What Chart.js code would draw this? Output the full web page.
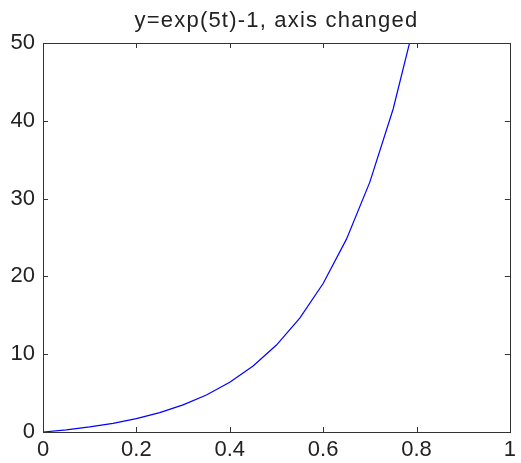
<!DOCTYPE html>
<html>
<head>
<meta charset="utf-8">
<script src="https://cdn.jsdelivr.net/npm/chart.js@4/dist/chart.umd.min.js"></script>
<style>
  html, body { margin: 0; padding: 0; background: #fff; }
  #wrap { width: 521px; height: 463px; }
</style>
</head>
<body>
<div id="wrap"><canvas id="c" width="521" height="463"></canvas></div>
<script>
// t samples and y values
const tValues = [0, 0.05, 0.1, 0.15, 0.2, 0.25, 0.3, 0.35, 0.4, 0.45, 0.5, 0.55, 0.6, 0.65, 0.7, 0.75, 0.8]
const yValues = [0, 0.28, 0.65, 1.12, 1.72, 2.49, 3.48, 4.75, 6.39, 8.49, 11.18, 14.64, 19.09, 24.79, 32.12, 41.52, 53.6]
const xTicks = [0, 0.2, 0.4, 0.6, 0.8, 1]
const yTicks = [0, 10, 20, 30, 40, 50]
const titleText = 'y=exp(5t)-1, axis changed'

const FONT = '"Liberation Sans", Arial, sans-serif'
const ink = '#222'

// MATLAB style box with inward ticks on all four sides
const boxPlugin = {
  id: 'box',
  afterDraw(chart) {
    const { ctx, chartArea: a, scales } = chart
    ctx.save()
    ctx.strokeStyle = '#333'
    ctx.lineWidth = 1
    ctx.strokeRect(Math.round(a.left) + 0.5, Math.round(a.top) + 0.5,
      Math.round(a.right - a.left), Math.round(a.bottom - a.top))
    const len = 5
    ctx.beginPath()
    xTicks.forEach((v) => {
      const x = Math.round(scales.x.getPixelForValue(v)) + 0.5
      ctx.moveTo(x, a.bottom); ctx.lineTo(x, a.bottom - len)
      ctx.moveTo(x, a.top); ctx.lineTo(x, a.top + len)
    })
    yTicks.forEach((v) => {
      const y = Math.round(scales.y.getPixelForValue(v)) + 0.5
      ctx.moveTo(a.left, y); ctx.lineTo(a.left + len, y)
      ctx.moveTo(a.right, y); ctx.lineTo(a.right - len, y)
    })
    ctx.stroke()

    ctx.fillStyle = ink
    ctx.font = '22px ' + FONT
    ctx.letterSpacing = '1.2px'
    ctx.textAlign = 'center'
    ctx.textBaseline = 'alphabetic'
    ctx.fillText(titleText, (a.left + a.right) / 2, 27)
    ctx.restore()
  },
}

new Chart(document.getElementById('c'), {
  type: 'scatter',
  data: {
    datasets: [{
      data: tValues.map((t, i) => ({ x: t, y: yValues[i] })),
      showLine: true,
      borderColor: '#0000ff',
      borderWidth: 1.2,
      pointRadius: 0,
      tension: 0,
      clip: 0,
    }],
  },
  options: {
    responsive: false,
    animation: false,
    devicePixelRatio: 1,
    layout: { padding: { top: 43, right: 4, left: 0, bottom: 0 } },
    plugins: { legend: { display: false }, tooltip: { enabled: false }, title: { display: false } },
    scales: {
      x: {
        type: 'linear',
        min: 0,
        max: 1,
        afterBuildTicks: (scale) => { scale.ticks = xTicks.map((v) => ({ value: v })) },
        afterFit: (scale) => { scale.height = 31 },
        grid: { display: false, drawTicks: false },
        border: { display: false },
        ticks: {
          color: ink,
          padding: 5,
          font: { size: 22, family: FONT },
          callback: (v) => String(v),
        },
      },
      y: {
        type: 'linear',
        min: 0,
        max: 50,
        afterBuildTicks: (scale) => { scale.ticks = yTicks.map((v) => ({ value: v })) },
        afterFit: (scale) => { scale.width = 43 },
        grid: { display: false, drawTicks: false },
        border: { display: false },
        ticks: {
          color: ink,
          padding: 8,
          font: { size: 22, family: FONT },
          callback: (v) => String(v),
        },
      },
    },
  },
  plugins: [boxPlugin],
})
</script>
</body>
</html>
